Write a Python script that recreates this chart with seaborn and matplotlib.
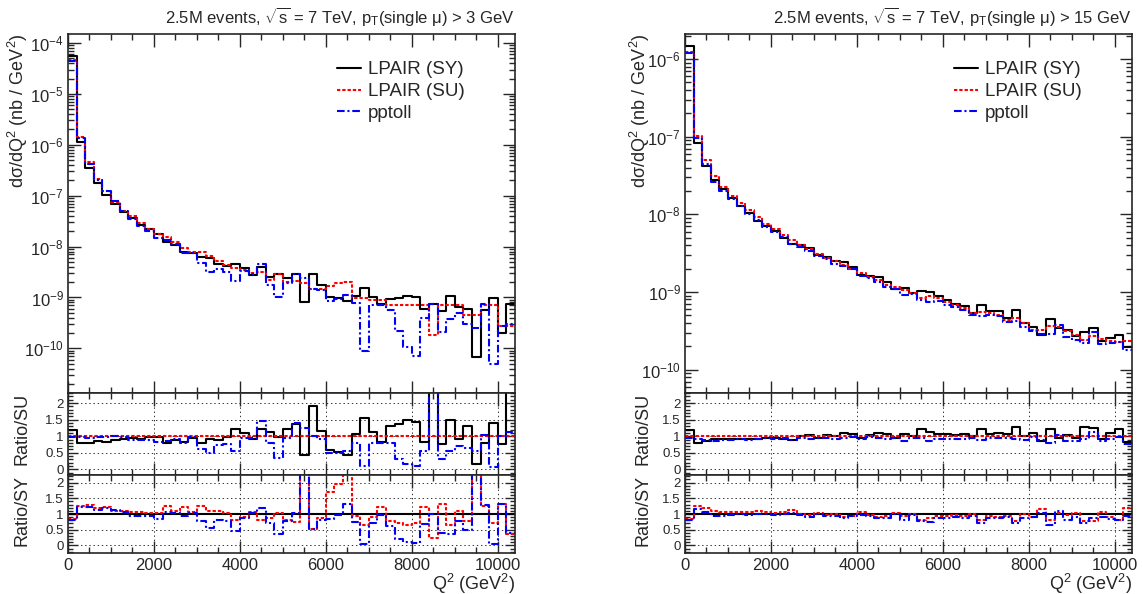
import numpy as np
import matplotlib
matplotlib.use("Agg")
import matplotlib.pyplot as plt
from matplotlib.ticker import MultipleLocator, LogLocator, FuncFormatter, NullFormatter
import seaborn as sns

# ======================================
# DATA
# ======================================

# bins of Q^2, 200 GeV^2 wide, 0 .. 10400
bin_edges = np.arange(0, 10401, 200)

# LPAIR (SU) cross sections, nb / GeV^2
left_su = [4.6e-5, 1.4e-6, 4.5e-7, 2.1e-7, 1.25e-7, 7.6e-8, 5.1e-8, 3.9e-8, 2.9e-8, 2.25e-8,
           1.8e-8, 1.55e-8, 1.22e-8, 9.5e-9, 7.8e-9, 7.8e-9, 6.4e-9, 5.1e-9, 4.3e-9, 3.8e-9,
           3.5e-9, 3.0e-9, 3.2e-9, 2.2e-9, 2.9e-9, 2.0e-9, 2.1e-9, 1.9e-9, 1.5e-9, 1.5e-9,
           1.7e-9, 1.9e-9, 2.05e-9, 9.8e-10, 9.8e-10, 9.0e-10, 9.0e-10, 7.2e-10, 7.2e-10, 7.2e-10,
           7.2e-10, 7.2e-10, 1.85e-10, 7.0e-10, 7.0e-10, 7.0e-10, 4.6e-10, 4.6e-10, 7.0e-10, 7.0e-10,
           2.7e-10, 2.7e-10]
right_su = [1.24e-6, 1.03e-7, 5.0e-8, 3.08e-8, 2.28e-8, 1.73e-8, 1.39e-8, 1.13e-8, 9.1e-9, 7.4e-9,
            6.4e-9, 5.35e-9, 4.66e-9, 4.0e-9, 3.6e-9, 3.1e-9, 2.75e-9, 2.5e-9, 2.22e-9, 2.0e-9,
            1.74e-9, 1.56e-9, 1.41e-9, 1.24e-9, 1.15e-9, 1.05e-9, 9.7e-10, 8.4e-10, 8.8e-10, 8.4e-10,
            7.4e-10, 6.8e-10, 6.3e-10, 5.35e-10, 5.6e-10, 5.35e-10, 5.1e-10, 4.3e-10, 4.6e-10, 4.0e-10,
            3.24e-10, 3.24e-10, 3.6e-10, 3.55e-10, 3.1e-10, 2.8e-10, 2.4e-10, 2.7e-10, 2.5e-10, 2.35e-10,
            2.3e-10, 2.35e-10]

# ratios to LPAIR (SU), read from the Ratio/SU pads
left_sy_over_su = [1.2, 0.8, 0.78, 0.85, 0.82, 0.9, 0.92, 0.95, 0.93, 0.97,
                   0.97, 0.8, 0.9, 0.82, 0.95, 0.8, 0.92, 0.9, 0.98, 1.22,
                   1.1, 0.93, 1.23, 1.13, 0.98, 1.22, 1.36, 0.42, 1.9, 1.16,
                   0.59, 0.51, 0.42, 1.08, 1.55, 1.12, 0.81, 1.3, 1.38, 1.5,
                   1.42, 0.82, 4.0, 0.76, 1.5, 0.91, 1.3, 0.15, 0.8, 1.4,
                   0.75, 2.8]
left_pp_over_su = [0.97, 0.97, 0.95, 0.97, 0.98, 1.02, 0.98, 0.9, 0.88, 0.9,
                   0.83, 0.85, 0.92, 0.78, 0.97, 0.62, 0.5, 0.72, 0.75, 0.55,
                   0.95, 0.95, 1.45, 0.8, 0.35, 0.95, 1.4, 1.25, 1.0, 0.93,
                   0.5, 0.5, 0.55, 0.8, 0.09, 0.8, 0.78, 0.8, 0.3, 0.15,
                   0.1, 0.55, 4.0, 0.3, 0.55, 0.7, 0.65, 0.55, 1.04, 0.07,
                   1.0, 1.12]
right_sy_over_su = [1.18, 0.8, 0.85, 0.91, 0.93, 0.93, 0.93, 0.93, 0.91, 0.95,
                    0.96, 0.93, 0.88, 1.0, 1.03, 0.96, 1.03, 1.0, 1.1, 1.06,
                    0.95, 1.03, 1.1, 1.08, 0.96, 1.08, 1.0, 1.23, 1.13, 1.06,
                    1.06, 1.03, 1.06, 1.01, 1.23, 1.06, 1.11, 1.06, 1.28, 1.0,
                    1.1, 0.86, 1.23, 0.96, 1.03, 0.96, 1.28, 1.26, 0.93, 1.1,
                    1.23, 0.83]
right_pp_over_su = [0.95, 0.92, 0.9, 0.85, 0.88, 0.9, 0.92, 0.9, 0.92, 0.94,
                    0.93, 0.94, 0.9, 0.96, 0.93, 0.95, 0.96, 0.93, 0.96, 0.98,
                    0.93, 0.98, 0.96, 0.93, 0.96, 0.86, 0.96, 0.95, 0.85, 0.92,
                    0.93, 0.93, 0.93, 0.95, 0.88, 0.94, 0.96, 0.96, 0.93, 0.88,
                    0.98, 0.9, 0.8, 1.05, 0.85, 0.86, 0.93, 1.12, 0.85, 0.93,
                    0.98, 0.77]

titles = [r"2.5M events, $\sqrt{s}$ = 7 TeV, p$_{T}$(single μ) > 3 GeV",
          r"2.5M events, $\sqrt{s}$ = 7 TeV, p$_{T}$(single μ) > 15 GeV"]
legend_labels = ["LPAIR (SY)", "LPAIR (SU)", "pptoll"]

# ======================================
# STYLE
# ======================================

sns.set_style("ticks")
plt.rcParams["font.family"] = ["Liberation Sans", "DejaVu Sans"]
plt.rcParams["mathtext.fontset"] = "custom"
plt.rcParams["mathtext.rm"] = "Liberation Sans"
plt.rcParams["mathtext.it"] = "Liberation Sans:italic"
plt.rcParams["mathtext.bf"] = "Liberation Sans:bold"
plt.rcParams["mathtext.default"] = "regular"
plt.rcParams["lines.scale_dashes"] = False

SY_STYLE = dict(color="black", linestyle="-")
SU_STYLE = dict(color="#ff0000", linestyle=(0, (2.4, 1.4)))
PP_STYLE = dict(color="#0000ff", linestyle=(0, (5.5, 2.0, 1.5, 2.0)))

LABEL_SIZE = 13
TICK_SIZE = 12


def step(ax, vals, style):
    y = np.append(vals, vals[-1])
    sns.lineplot(x=bin_edges, y=y, ax=ax, linewidth=1.5,
                 drawstyle="steps-post", estimator=None, sort=False,
                 legend=False, **style)


def frame(ax):
    ax.set_xlim(0, 10400)
    ax.xaxis.set_major_locator(MultipleLocator(2000))
    ax.xaxis.set_minor_locator(MultipleLocator(500))
    ax.tick_params(which="both", direction="in", top=True, right=True)
    ax.tick_params(which="major", length=9, width=1)
    ax.tick_params(which="minor", length=4.5, width=1)
    for s in ax.spines.values():
        s.set_linewidth(1.2)


def hide_x_labels(ax):
    ax.xaxis.set_major_formatter(NullFormatter())
    ax.tick_params(axis="x", labelbottom=False)
    ax.set_xlabel("")


def ratio_pad(ax, ylim, label, lab_x):
    frame(ax)
    ax.set_ylim(*ylim)
    ax.yaxis.set_major_locator(MultipleLocator(0.5))
    ax.yaxis.set_minor_locator(MultipleLocator(0.1))
    ax.yaxis.set_major_formatter(FuncFormatter(lambda v, p: f"{v:g}"))
    ax.tick_params(axis="y", which="major", length=7, labelsize=9.5, pad=3)
    ax.tick_params(axis="y", which="minor", length=3.5)
    ax.grid(True, which="major", color="#333333", linestyle=(0, (1, 2)), linewidth=0.7)
    ax.set_axisbelow(True)
    ax.set_ylabel(label, loc="top", fontsize=LABEL_SIZE)
    ax.yaxis.set_label_coords(lab_x, 1.0)


# ======================================
# FIGURE
# ======================================

fig = plt.figure(figsize=(11.43, 5.94), dpi=100)

panels = [
    dict(left=68 / 1143, su=left_su, r_sy=left_sy_over_su, r_pp=left_pp_over_su,
         ylim=(1.33e-11, 1.5e-4), lab_x=-0.085, title=titles[0]),
    dict(left=685 / 1143, su=right_su, r_sy=right_sy_over_su, r_pp=right_pp_over_su,
         ylim=(5e-11, 2.1e-6), lab_x=-0.074, title=titles[1]),
]
width = 447 / 1143

for p in panels:
    su = np.array(p["su"])
    r_sy = np.array(p["r_sy"])
    r_pp = np.array(p["r_pp"])
    sy = su * r_sy
    pp = su * r_pp

    ax_main = fig.add_axes([p["left"], 0.3384, width, 0.6044])
    ax_su = fig.add_axes([p["left"], 0.2003, width, 0.138])
    ax_sy = fig.add_axes([p["left"], 0.069, width, 0.1313])

    # main distribution
    ax_main.set_yscale("log")
    step(ax_main, sy, SY_STYLE)
    step(ax_main, su, SU_STYLE)
    step(ax_main, pp, PP_STYLE)
    frame(ax_main)
    ax_main.set_ylim(*p["ylim"])
    ax_main.yaxis.set_major_locator(LogLocator(base=10, numticks=20))
    ax_main.yaxis.set_minor_locator(LogLocator(base=10, subs=np.arange(2, 10), numticks=20))
    ax_main.yaxis.set_minor_formatter(NullFormatter())
    ax_main.tick_params(axis="y", labelsize=TICK_SIZE, pad=3)
    hide_x_labels(ax_main)
    ax_main.set_ylabel(r"d$\sigma$/dQ$^{2}$ (nb / GeV$^{2}$)", loc="top", fontsize=LABEL_SIZE)
    ax_main.yaxis.set_label_coords(p["lab_x"], 1.0)
    ax_main.text(1.0, 1.03, p["title"], transform=ax_main.transAxes,
                 ha="right", va="baseline", fontsize=12)
    ax_main.legend(ax_main.get_lines()[:3], legend_labels, loc="upper left",
                   bbox_to_anchor=(0.585, 0.945), frameon=False, fontsize=13.5,
                   handlelength=1.3, handletextpad=0.35, labelspacing=0.25,
                   borderaxespad=0)

    # ratio to SU
    step(ax_su, r_sy, SY_STYLE)
    step(ax_su, su / su, SU_STYLE)
    step(ax_su, r_pp, PP_STYLE)
    ratio_pad(ax_su, (-0.17, 2.3), "Ratio/SU", p["lab_x"])
    hide_x_labels(ax_su)

    # ratio to SY
    step(ax_sy, sy / sy, SY_STYLE)
    step(ax_sy, su / sy, SU_STYLE)
    step(ax_sy, pp / sy, PP_STYLE)
    ratio_pad(ax_sy, (-0.24, 2.24), "Ratio/SY", p["lab_x"])
    ax_sy.tick_params(axis="x", labelsize=TICK_SIZE)
    ax_sy.set_xlabel(r"Q$^{2}$ (GeV$^{2}$)", loc="right", fontsize=LABEL_SIZE)
    ax_sy.xaxis.set_label_coords(1.0, -0.24)

fig.savefig("out.png", dpi=100)
